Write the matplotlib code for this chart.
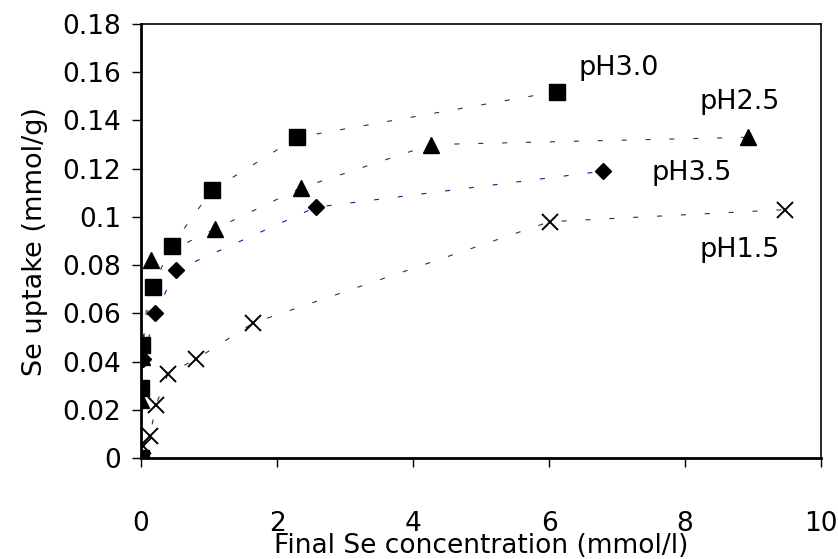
import matplotlib
matplotlib.use("Agg")
import matplotlib.pyplot as plt

plt.rcParams['font.family'] = ['DejaVu Sans']

# pH 3.0 (squares)
x_ph30 = [0.0, 0.0, 0.01, 0.17, 0.45, 1.04, 2.30, 6.12]
y_ph30 = [0.0, 0.029, 0.047, 0.071, 0.088, 0.111, 0.133, 0.152]
# pH 2.5 (triangles)
x_ph25 = [0.0, 0.0, 0.02, 0.14, 1.09, 2.35, 4.27, 8.92]
y_ph25 = [0.0, 0.024, 0.042, 0.082, 0.095, 0.112, 0.130, 0.133]
# pH 3.5 (diamonds)
x_ph35 = [0.0, 0.03, 0.21, 0.52, 2.57, 6.80]
y_ph35 = [0.0, 0.041, 0.060, 0.078, 0.104, 0.119]
# pH 1.5 (crosses)
x_ph15 = [0.03, 0.13, 0.22, 0.40, 0.81, 1.65, 6.01, 9.47]
y_ph15 = [0.005, 0.009, 0.022, 0.035, 0.041, 0.056, 0.098, 0.103]

labels = ['pH3.0', 'pH2.5', 'pH3.5', 'pH1.5']
label_x = [6.44, 8.21, 7.51, 8.21]
label_y = [0.1618, 0.1478, 0.1182, 0.0863]

fig = plt.figure(figsize=(8.38, 5.59), dpi=100)
ax = fig.add_axes([141/838, 1 - 458/559, 680/838, 434/559])

dash = (0, (4.5, 17))
ax.plot(x_ph30, y_ph30, color='#333333', lw=0.8, ls=dash, zorder=2)
ax.plot(x_ph25, y_ph25, color='#333333', lw=0.8, ls=dash, zorder=2)
ax.plot(x_ph35, y_ph35, color='#1a1a99', lw=0.8, ls=dash, zorder=2)
ax.plot(x_ph15, y_ph15, color='#333333', lw=0.8, ls=dash, zorder=2)

ax.plot(x_ph15, y_ph15, 'x', color='black', ms=12, mew=1.4, ls='none', zorder=3)
ax.plot(x_ph35, y_ph35, 'D', color='black', ms=8.5, ls='none', zorder=3)
ax.plot(x_ph25, y_ph25, '^', color='black', ms=12, ls='none', zorder=3)
ax.plot(x_ph30, y_ph30, 's', color='black', ms=11, ls='none', zorder=4)

for t, lx, ly in zip(labels, label_x, label_y):
    ax.text(lx, ly, t, fontsize=19.5, ha='left', va='center')

ax.set_xlim(0, 10)
ax.set_ylim(0, 0.18)
ax.set_xticks([0, 2, 4, 6, 8, 10])
ax.set_xticklabels(['0', '2', '4', '6', '8', '10'])
ax.set_yticks([0, 0.02, 0.04, 0.06, 0.08, 0.1, 0.12, 0.14, 0.16, 0.18])
ax.set_yticklabels(['0', '0.02', '0.04', '0.06', '0.08', '0.1', '0.12', '0.14', '0.16', '0.18'])
ax.tick_params(axis='both', direction='out', length=6.5, width=1, labelsize=19)
ax.tick_params(axis='y', pad=8)
ax.tick_params(axis='x', pad=32)
for s in ax.spines.values():
    s.set_linewidth(1.2)
ax.spines['left'].set_linewidth(2)
ax.spines['bottom'].set_linewidth(2)

ax.set_xlabel('Final Se concentration (mmol/l)', fontsize=19)
ax.xaxis.set_label_coords(0.5, -(553 - 458) / 434)
ax.xaxis.label.set_va('baseline')
ax.set_ylabel('Se uptake (mmol/g)', fontsize=19.5, labelpad=10)

fig.savefig('out.png', dpi=100)
